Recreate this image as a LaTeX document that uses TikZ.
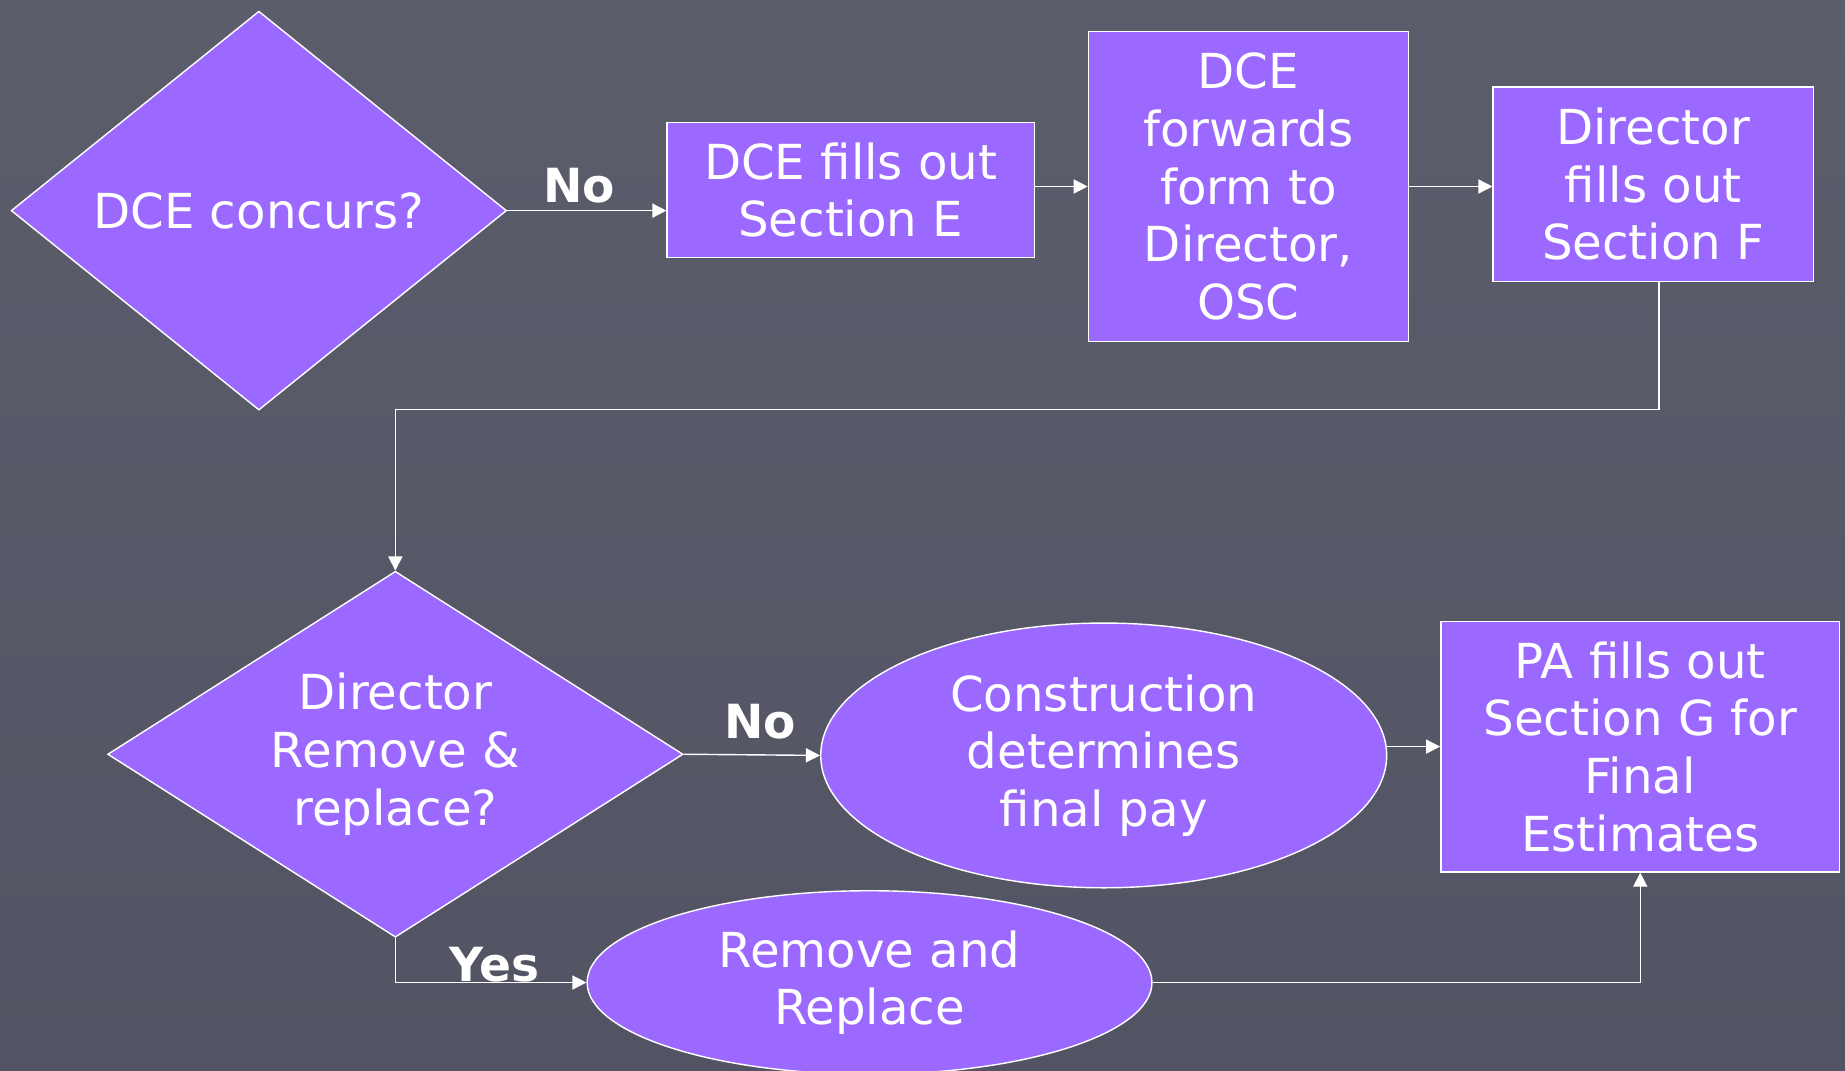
\documentclass[tikz,border=0pt]{standalone}
\usepackage{fontspec}
\setmainfont{DejaVu Sans}
\usetikzlibrary{shapes.geometric,arrows.meta}
\definecolor{bgtop}{RGB}{91,93,107}
\definecolor{bgbot}{RGB}{82,84,99}
\definecolor{purp}{RGB}{155,105,255}
\begin{document}
\begin{tikzpicture}[x=1pt,y=-1pt,
  shp/.style={draw=white, line width=1.2pt, fill=purp, text=white, inner sep=0pt, align=center, font=\fontsize{41}{49}\selectfont},
  box/.style={shp, rectangle},
  dia/.style={shp, diamond},
  ell/.style={shp, ellipse},
  lbl/.style={text=white, font=\fontsize{40}{46}\bfseries\selectfont, inner sep=0pt},
  arr/.style={draw=white, line width=1.2pt, -{Triangle[length=12pt,width=12pt]}}]
\shade[top color=bgtop, bottom color=bgbot] (0,0) rectangle (1568,910);
\useasboundingbox (0,0) rectangle (1568,910);

\node[dia, shape aspect=1.24, minimum width=421pt, minimum height=339pt] (d1) at (220,179) {DCE concurs?};
\node[box, minimum width=312pt, minimum height=115pt] (e) at (723,161.5) {DCE fills out\\Section E};
\node[box, minimum width=272pt, minimum height=263pt] (fw) at (1061,158.5) {DCE\\forwards\\form to\\Director,\\OSC};
\node[box, minimum width=272pt, minimum height=165pt] (f) at (1405,156.5) {Director\\fills out\\Section F};
\node[dia, shape aspect=1.57, minimum width=489pt, minimum height=311pt] (d2) at (336,641) {Director\\Remove \&\\replace?};
\node[ell, minimum width=481pt, minimum height=225pt] (c) at (938,642) {Construction\\determines\\final pay};
\node[box, minimum width=339pt, minimum height=213pt] (pa) at (1394,634.5) {PA fills out\\Section G for\\Final\\Estimates};
\node[ell, minimum width=480pt, minimum height=156pt] (r) at (739,835) {Remove and\\Replace};

\node[lbl] (no1) at (492,158) {No};
\node[lbl] (no2) at (646,613) {No};
\node[lbl] (yes) at (420,820) {Yes};

\coordinate (bend) at (336,348);
\draw[arr] (d1.east) -- (d1.east -| e.west);
\draw[arr] (fw.west -| e.east) -- (fw.west);
\draw[arr] (fw.east) -- (fw.east -| f.west);
\draw[arr] ([xshift=5pt]f.south) |- (bend) -- (d2.north);
\draw[arr] (d2.east) -- (c.west);
\draw[arr] (pa.west -| c.east) -- (pa.west);
\draw[arr] (d2.south) |- (r.west);
\draw[arr] (r.east) -| (pa.south);
\end{tikzpicture}
\end{document}
